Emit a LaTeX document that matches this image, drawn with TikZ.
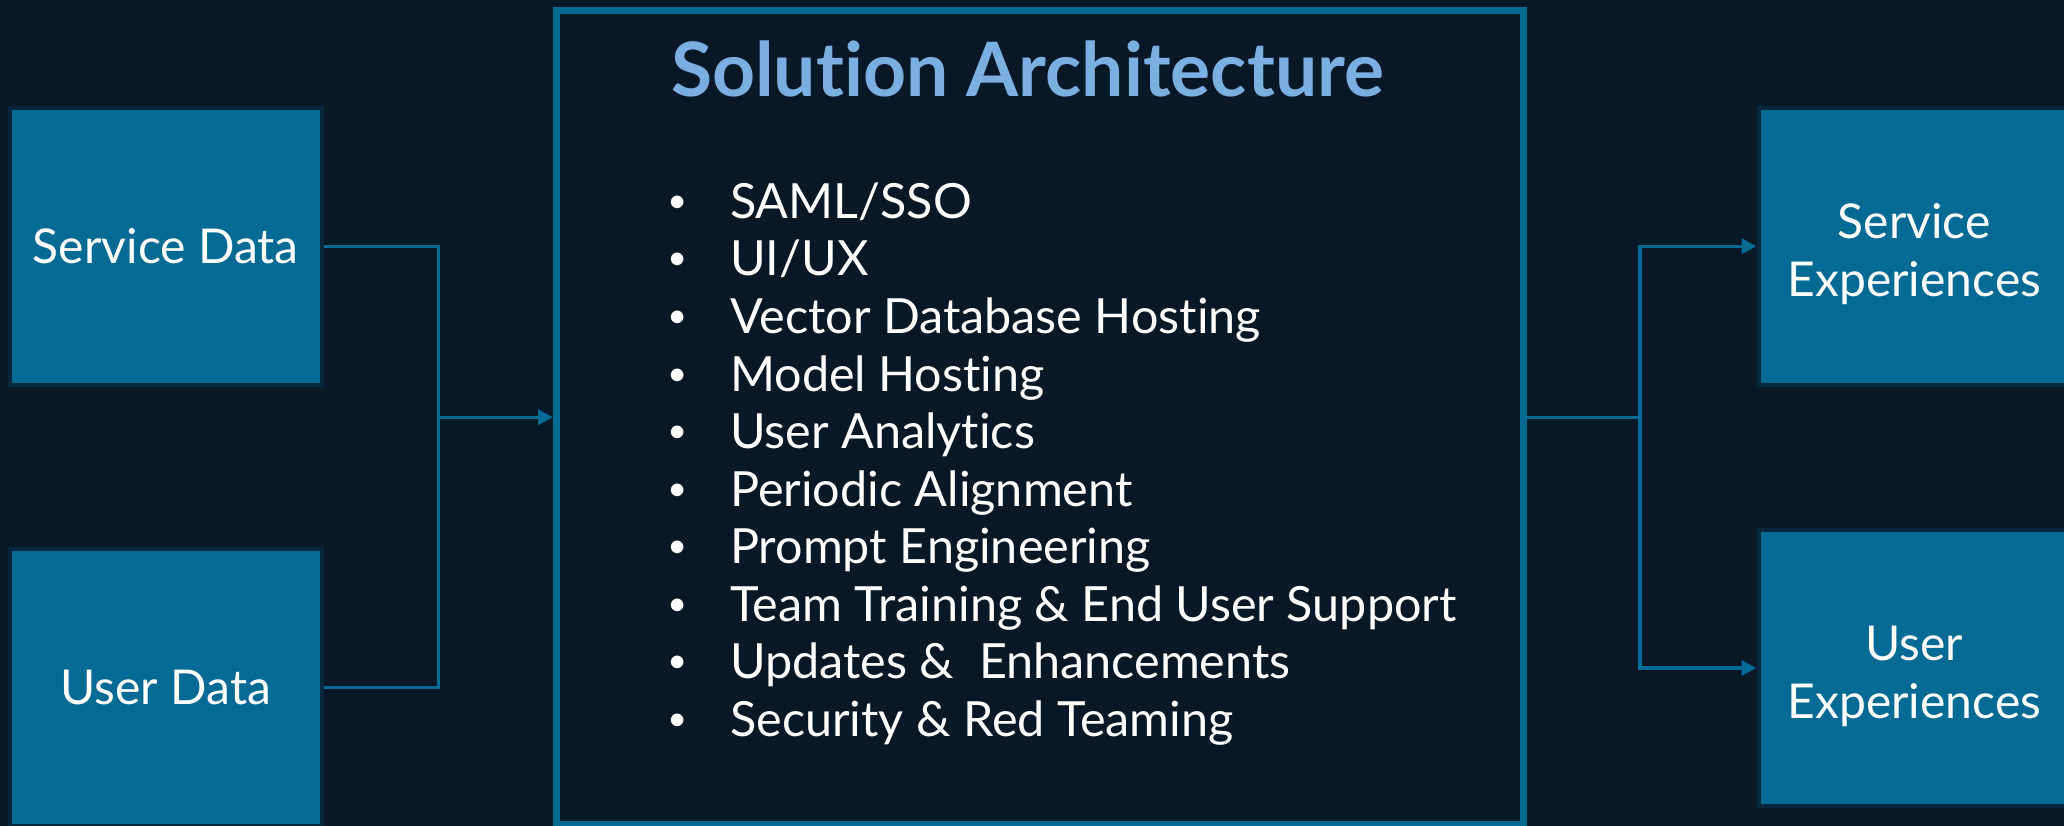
\documentclass[tikz,border=0pt]{standalone}
\usepackage{fontspec}
\setmainfont{Lato}[Ligatures={NoCommon,NoContextual}]
\usetikzlibrary{arrows.meta}
\definecolor{bg}{HTML}{081827}
\definecolor{boxfill}{HTML}{056A94}
\definecolor{boxedge}{HTML}{07283C}
\definecolor{titleblue}{HTML}{7BAFE1}
\tikzset{
  datanode/.style={draw=boxedge, line width=4pt, fill=boxfill, text=white,
    minimum width=311.5pt, minimum height=276.5pt, inner sep=0pt, align=center,
    font=\fontsize{48}{58}\selectfont},
  twoline/.style={text=white, align=center, inner sep=0pt,
    font=\fontsize{48}{58}\selectfont},
  mainbox/.style={draw=boxfill, line width=7pt, minimum width=966.5pt,
    minimum height=813.5pt, inner sep=0pt},
  conn/.style={draw=boxfill, line width=3.3pt},
  arr/.style={conn, -{Triangle[length=15pt,width=15pt]}},
  bullettext/.style={text=white, anchor=base west, inner sep=0pt,
    font=\fontsize{48.5}{57.5}\selectfont}
}
\newcommand{\bul}{\llap{\makebox[106pt][c]{\raisebox{6pt}{\fontsize{34}{34}\selectfont •}}}}
\begin{document}
\begin{tikzpicture}[x=1pt,y=-1pt]
\fill[bg] (0,0) rectangle (2064,826);
\useasboundingbox (0,0) rectangle (2064,826);

\node[datanode] (sd) at (165.75,246.25) {Service Data};
\node[datanode] (ud) at (165.75,687.5) {User Data};
\node[datanode, label={[twoline, yshift=-8pt]center:Service\\Experiences}] (se) at (1914.25,246.25) {};
\node[datanode, label={[twoline, yshift=-8pt]center:User\\Experiences}] (ue) at (1914.25,668) {};

\node[mainbox] (sa) at (1039.75,417.25) {};
\node[text=titleblue, anchor=base, inner sep=0pt,
  font=\fontsize{75}{90}\bfseries\selectfont] (title) at (1027.5,97) {Solution Architecture};

\foreach \t [count=\i from 0] in {SAML/SSO, UI/UX, Vector Database Hosting, Model Hosting,
  User Analytics, Periodic Alignment, Prompt Engineering,
  Team Training \& End User Support, Updates \&\ \ Enhancements, Security \& Red Teaming}{
  \node[bullettext] (b\i) at (730,218.5+57.5*\i) {\bul\t};
}

\coordinate (lj) at (438.6,417.25);
\coordinate (rj) at (1640,417.25);
\draw[conn] (sd.east) -| (lj) |- (ud.east);
\draw[arr] (lj) -- (sa.west);
\draw[conn] (sa.east) -- (rj);
\draw[arr] (rj) |- (se.west);
\draw[arr] (rj) |- (ue.west);
\end{tikzpicture}
\end{document}
